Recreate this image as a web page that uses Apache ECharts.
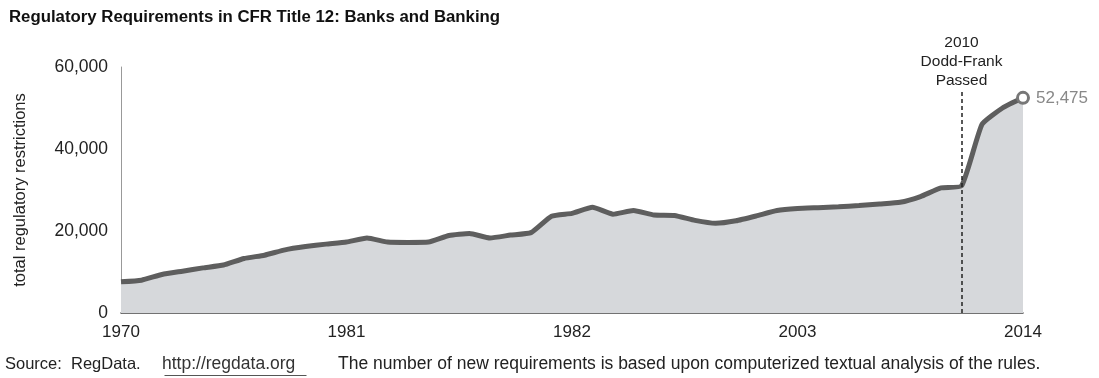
<!DOCTYPE html>
<html>
<head>
<meta charset="utf-8">
<title>Regulatory Requirements in CFR Title 12</title>
<script src="https://cdn.jsdelivr.net/npm/echarts@6/dist/echarts.min.js"></script>
<style>
  html, body { margin: 0; padding: 0; background: #fff; }
  #chart { width: 1099px; height: 378px; }
</style>
</head>
<body>
<div id="chart"></div>
<script>
// years 1970 .. 2014
var years = [];
for (var y = 1970; y <= 2014; y++) years.push(String(y));

// tick labels as printed on the original (yes, the middle one says 1982)
var xTickLabels = ['1970', '1981', '1982', '2003', '2014'];

// total regulatory restrictions
var restrictions = [
  7600, 8000, 9400, 10200, 11000, 11700, 13300, 14100, 15400, 16200,
  16800, 17300, 18300, 17300, 17200, 17300, 18900, 19400, 18300, 19000,
  19600, 23600, 24300, 25800, 24100, 25000, 23900, 23800, 22600, 21900,
  22500, 23700, 25000, 25500, 25700, 25900, 26200, 26600, 27000, 28400,
  30500, 31000, 46000, 50000, 52475
];

var yTicks = [0, 20000, 40000, 60000];

// dodd-frank marker
var doddFrankIndex = 41;
var doddFrankTop = 53900;

var FONT = 'Liberation Sans, Arial, sans-serif';

var chart = echarts.init(document.getElementById('chart'));

var option = {
  animation: false,
  textStyle: { fontFamily: FONT },
  title: {
    text: 'Regulatory Requirements in CFR Title 12: Banks and Banking',
    left: 4,
    top: 4,
    textStyle: { fontSize: 16.8, fontWeight: 'bold', color: '#111' }
  },
  grid: { left: 121, right: 76, top: 67, bottom: 65 },
  xAxis: {
    type: 'category',
    data: years,
    boundaryGap: false,
    axisLine: { lineStyle: { color: '#444', width: 1.5 } },
    axisTick: { show: false },
    axisLabel: {
      interval: 10,
      margin: 11,
      fontSize: 17,
      color: '#222',
      formatter: function (val, idx) {
        return xTickLabels[Math.round(idx / 11)];
      }
    },
    splitLine: { show: false }
  },
  yAxis: {
    type: 'value',
    min: yTicks[0],
    max: yTicks[yTicks.length - 1],
    interval: 20000,
    name: 'total regulatory restrictions',
    nameLocation: 'middle',
    nameRotate: 90,
    nameGap: 92,
    nameTextStyle: { fontSize: 16.5, color: '#222' },
    axisLine: { show: true, lineStyle: { color: '#999', width: 1 } },
    axisTick: { show: false },
    axisLabel: {
      margin: 13,
      fontSize: 17.5,
      color: '#222',
      formatter: function (v) { return v.toLocaleString('en-US'); }
    },
    splitLine: { show: false }
  },
  series: [{
    type: 'line',
    data: restrictions,
    symbol: 'none',
    smooth: 0.15,
    lineStyle: { color: '#5e5e5e', width: 5 },
    areaStyle: { color: '#d6d8db', opacity: 1 },
    z: 3,
    markLine: {
      silent: true,
      symbol: 'none',
      lineStyle: { color: '#222', type: [4, 3], width: 1.5 },
      label: {
        show: true,
        position: 'end',
        distance: 2,
        formatter: '2010\nDodd-Frank\nPassed',
        fontSize: 15.5,
        lineHeight: 19,
        color: '#222'
      },
      data: [[
        { coord: [doddFrankIndex, 0] },
        { coord: [doddFrankIndex, doddFrankTop] }
      ]]
    },
    markPoint: {
      silent: true,
      symbol: 'circle',
      symbolSize: 11,
      itemStyle: { color: '#fff', borderColor: '#777', borderWidth: 3 },
      label: {
        show: true,
        position: 'right',
        distance: 6,
        fontSize: 17,
        color: '#888',
        formatter: function (p) { return p.value.toLocaleString('en-US'); }
      },
      data: [{
        coord: [restrictions.length - 1, restrictions[restrictions.length - 1]],
        value: restrictions[restrictions.length - 1]
      }]
    }
  }],
  graphic: [
    {
      type: 'text', left: 5, top: 356,
      style: { text: 'Source:', fontSize: 16.5, fill: '#222', fontFamily: FONT }
    },
    {
      type: 'text', left: 71, top: 356,
      style: { text: 'RegData.', fontSize: 16.5, fill: '#222', fontFamily: FONT }
    },
    {
      type: 'text', left: 162, top: 355,
      style: { text: 'http://regdata.org', fontSize: 17.5, fill: '#333', fontFamily: FONT }
    },
    {
      type: 'line', left: 162, top: 373,
      shape: { x1: 0, y1: 0, x2: 142, y2: 0 },
      style: { stroke: '#555', lineWidth: 1 }
    },
    {
      type: 'text', left: 338, top: 355,
      style: { text: 'The number of new requirements is based upon computerized textual analysis of the rules.', fontSize: 17.5, fill: '#222', fontFamily: FONT }
    }
  ]
};

chart.setOption(option);
</script>
</body>
</html>
